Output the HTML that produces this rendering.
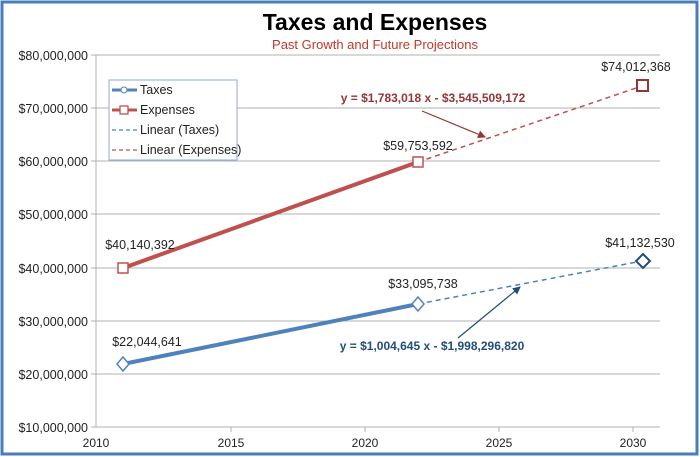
<!DOCTYPE html>
<html><head><meta charset="utf-8"><style>
html,body{margin:0;padding:0;background:#fff}
svg{display:block;font-family:"Liberation Sans",sans-serif}
</style></head><body>
<svg width="700" height="457" viewBox="0 0 700 457">
<defs>
<marker id="ar" markerWidth="8" markerHeight="8" refX="7" refY="4" orient="auto" markerUnits="userSpaceOnUse"><path d="M0,0 L8,4 L0,8 z" fill="#943634"/></marker>
<marker id="ab" markerWidth="8" markerHeight="8" refX="7" refY="4" orient="auto" markerUnits="userSpaceOnUse"><path d="M0,0 L8,4 L0,8 z" fill="#1f4e79"/></marker>
</defs>
<rect x="2" y="2" width="695" height="452" fill="#fff" stroke="#4a7ebb" stroke-width="3"/>
<text x="375" y="30" font-size="23" font-weight="bold" text-anchor="middle" fill="#000">Taxes and Expenses</text>
<text x="375" y="49" font-size="13" text-anchor="middle" fill="#c0392b">Past Growth and Future Projections</text>
<g stroke="#b0b0b0" stroke-width="1">
<line x1="96" y1="55" x2="660" y2="55"/><line x1="96" y1="108" x2="660" y2="108"/>
<line x1="96" y1="161" x2="660" y2="161"/><line x1="96" y1="214" x2="660" y2="214"/>
<line x1="96" y1="268" x2="660" y2="268"/><line x1="96" y1="321" x2="660" y2="321"/>
<line x1="96" y1="374" x2="660" y2="374"/><line x1="96" y1="427" x2="660" y2="427"/>
<line x1="96" y1="55" x2="96" y2="427"/>
<line x1="91" y1="55" x2="96" y2="55"/><line x1="91" y1="108" x2="96" y2="108"/><line x1="91" y1="161" x2="96" y2="161"/><line x1="91" y1="214" x2="96" y2="214"/><line x1="91" y1="268" x2="96" y2="268"/><line x1="91" y1="321" x2="96" y2="321"/><line x1="91" y1="374" x2="96" y2="374"/><line x1="91" y1="427" x2="96" y2="427"/>
<line x1="231" y1="427" x2="231" y2="432"/><line x1="365" y1="427" x2="365" y2="432"/><line x1="499" y1="427" x2="499" y2="432"/><line x1="633" y1="427" x2="633" y2="432"/>
</g>
<g font-size="12.5" fill="#222" text-anchor="end">
<text x="88" y="60">$80,000,000</text><text x="88" y="113">$70,000,000</text><text x="88" y="166">$60,000,000</text><text x="88" y="219">$50,000,000</text><text x="88" y="273">$40,000,000</text><text x="88" y="326">$30,000,000</text><text x="88" y="379">$20,000,000</text><text x="88" y="432">$10,000,000</text>
</g>
<g font-size="12" fill="#222" text-anchor="middle">
<text x="96" y="447">2010</text><text x="231" y="447">2015</text><text x="365" y="447">2020</text><text x="499" y="447">2025</text><text x="633" y="447">2030</text>
</g>
<line x1="418" y1="162" x2="642" y2="86" stroke="#c0504d" stroke-width="1.5" stroke-dasharray="5,4"/>
<line x1="418" y1="304" x2="642" y2="261" stroke="#4f81bd" stroke-width="1.5" stroke-dasharray="5,4"/>
<line x1="123" y1="268" x2="418" y2="162" stroke="#c0504d" stroke-width="4"/>
<line x1="123" y1="364" x2="418" y2="304" stroke="#4f81bd" stroke-width="4"/>
<rect x="118" y="263" width="10" height="10" fill="#fff" stroke="#c0504d" stroke-width="1.5"/>
<rect x="413" y="157" width="10" height="10" fill="#fff" stroke="#c0504d" stroke-width="1.5"/>
<rect x="637" y="80" width="11" height="11" fill="#fff" stroke="#943634" stroke-width="2"/>
<path d="M123,357 l6,7 -6,7 -6,-7z" fill="#fff" stroke="#4f81bd" stroke-width="1.5"/>
<path d="M418,297 l6,7 -6,7 -6,-7z" fill="#fff" stroke="#4f81bd" stroke-width="1.5"/>
<path d="M643,254 l7,7 -7,7 -7,-7z" fill="#fff" stroke="#1f4e79" stroke-width="2"/>
<g font-size="12.5" fill="#222" text-anchor="middle">
<text x="140" y="249">$40,140,392</text><text x="418" y="150">$59,753,592</text><text x="636" y="71">$74,012,368</text>
<text x="147" y="346">$22,044,641</text><text x="423" y="288">$33,095,738</text><text x="640" y="247">$41,132,530</text>
</g>
<text x="433" y="102" font-size="12" font-weight="bold" fill="#943634" text-anchor="middle">y = $1,783,018 x - $3,545,509,172</text>
<line x1="422" y1="111" x2="485" y2="137" stroke="#943634" stroke-width="1.2" marker-end="url(#ar)"/>
<text x="432" y="350" font-size="12" font-weight="bold" fill="#1f4e79" text-anchor="middle">y = $1,004,645 x - $1,998,296,820</text>
<line x1="458" y1="338" x2="520" y2="287" stroke="#1f4e79" stroke-width="1.2" marker-end="url(#ab)"/>
<rect x="109" y="80" width="128" height="80" fill="#fff" stroke="#8faadc" stroke-width="1"/>
<g font-size="12.5" fill="#222">
<line x1="112" y1="90" x2="137" y2="90" stroke="#4f81bd" stroke-width="3"/><circle cx="124" cy="90" r="3" fill="#fff" stroke="#4f81bd"/>
<text x="140" y="94">Taxes</text>
<line x1="112" y1="110" x2="137" y2="110" stroke="#c0504d" stroke-width="3"/><rect x="120" y="106" width="8" height="8" fill="#fff" stroke="#c0504d" stroke-width="1.3"/>
<text x="140" y="114">Expenses</text>
<line x1="112" y1="130" x2="137" y2="130" stroke="#4f81bd" stroke-width="1.2" stroke-dasharray="4,3"/>
<text x="140" y="134">Linear (Taxes)</text>
<line x1="112" y1="150" x2="137" y2="150" stroke="#c0504d" stroke-width="1.2" stroke-dasharray="4,3"/>
<text x="140" y="154">Linear (Expenses)</text>
</g>
</svg>
</body></html>
